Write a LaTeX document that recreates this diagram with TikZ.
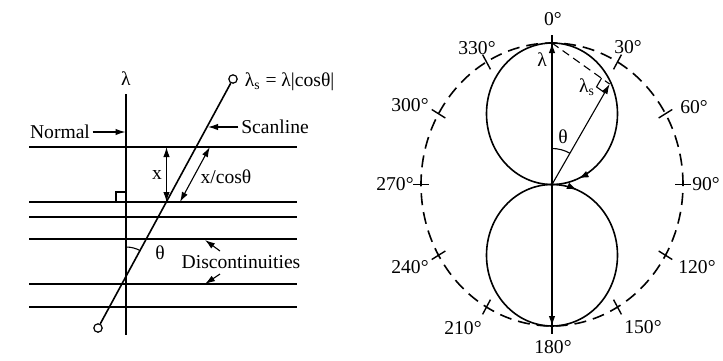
\documentclass[tikz,border=0pt]{standalone}
\usepackage{fontspec}
\setmainfont{Liberation Serif}
\usetikzlibrary{arrows.meta,calc,decorations.markings}
\begin{document}
\begin{tikzpicture}[x=0.5pt,y=-0.5pt,
  line width=0.8pt,
  lbl/.style={font=\fontsize{9.8}{11}\selectfont, inner sep=1pt},
  tip/.style={-{Latex[length=5pt,width=3.2pt]}},
  dtip/.style={{Latex[length=5pt,width=3.2pt]}-{Latex[length=5pt,width=3.2pt]}},
  endc/.style={circle,draw,line width=0.6pt,inner sep=0pt,minimum size=4.2pt,fill=white},
  thinl/.style={line width=0.55pt},
  tck/.style={line width=0.7pt},
]
\useasboundingbox (0,0) rectangle (723,360);

% ---------------- left figure ----------------
\foreach \y/\n in {147/a,202/b,217/c,239/d,284/e,307/f}{
  \coordinate (h\n1) at (29,\y); \coordinate (h\n2) at (297,\y);
  \draw (h\n1) -- (h\n2);
}
\coordinate (n1) at (126,94); \coordinate (n2) at (126,335);
\draw (n1) -- (n2);
\node[lbl] (lam) at (126,79) {λ};

\node[endc] (s1) at (98,328) {};
\node[endc] (s2) at (233,79) {};
\draw (s1) -- (s2);

% x and x/cos theta
\coordinate (xa) at (166.5,147); \coordinate (xb) at (166.5,202);
\draw[dtip,thinl] (xa) -- (xb);
\node[lbl] (xl) at (157,175) {x};
\coordinate (ca) at (209.8,147); \coordinate (cb) at (180,202);
\draw[dtip,thinl] (ca) -- (cb);
\node[lbl] (cl) at (226,177) {x/cosθ};

% right angle mark
\coordinate (r1) at (116,202); \coordinate (r2) at (116,192); \coordinate (r3) at (126,192);
\draw[thinl] (r1) -- (r2) -- (r3);

% theta arc
\coordinate (q) at (126,277);
\draw[thinl] ([shift={(90:15pt)}]q) arc[start angle=90, end angle=61.5, radius=15pt];
\node[lbl] (thl) at (160,253) {θ};

% labels with arrows
\node[lbl] (nl) at (60,132) {Normal};
\coordinate (nt) at (125.5,132);
\draw[tip,thinl] (nl.east) -- (nt);

\node[lbl] (sl) at (275,127) {Scanline};
\coordinate (st) at (208,127);
\draw[tip,thinl] (sl.west) -- (st);

\node[lbl,anchor=west] (ls) at (242,82) {λ\textsubscript{s} = λ|cosθ|};

\node[lbl] (dl) at (241,262) {Discontinuities};
\coordinate (da1) at (220,251); \coordinate (dt1) at (205,240);
\coordinate (da2) at (220,274); \coordinate (dt2) at (205,284);
\draw[tip,thinl] (da1) -- (dt1);
\draw[tip,thinl] (da2) -- (dt2);

% ---------------- right figure ----------------
\coordinate (O) at (552,184.5);
\begin{scope}[shift={(O)}, x={(65.5pt,0pt)}, y={(0pt,70.75pt)}]
  \coordinate (C) at (0,0);
  \coordinate (T) at (0,1);
  \coordinate (B) at (0,-1);
  \coordinate (P) at (0.44,0.71);
  \draw[dash pattern=on 6pt off 3.5pt] (C) circle [radius=1];
  \foreach \a in {0,30,...,330}{
    \draw[tck] ({0.94*sin(\a)},{0.94*cos(\a)}) -- ({1.06*sin(\a)},{1.06*cos(\a)});
  }
  \draw[postaction={decorate}, decoration={markings,
      mark=at position 0.936 with {\arrow{Latex[length=5pt,width=3.5pt]}}}]
    (C) arc[start angle=-90, end angle=-450, radius=0.5];
  \draw[postaction={decorate}, decoration={markings,
      mark=at position 0.06 with {\arrow{Latex[length=5pt,width=3.5pt]}}}]
    (C) arc[start angle=90, end angle=-270, radius=0.5];
  \draw[tip,thinl] (C) -- (T);
  \draw[tip,thinl] (C) -- (B);
  \draw[tip,thinl] (C) -- (P);
  \draw[thinl,dash pattern=on 4pt off 2.5pt] (T) -- (P);
  \coordinate (ra1) at ($(P)!5pt!(T)$);
  \coordinate (ra2) at ($(P)!5pt!(C)$);
  \draw[thinl] (ra1) -- ($(ra1)+(ra2)-(P)$) -- (ra2);
  \draw[thinl] ([shift={(90:18pt)}]C) arc[start angle=90, end angle=60.2, radius=18pt];
\end{scope}

\node[lbl] (rlam) at (542,60) {λ};
\node[lbl] (rls) at (587,87) {λ\textsubscript{s}};
\node[lbl] (rth) at (563,137) {θ};

\node[lbl] (d0)   at (553,19)  {0°};
\node[lbl] (d30)  at (628,47)  {30°};
\node[lbl] (d60)  at (694,107) {60°};
\node[lbl] (d90)  at (706,184) {90°};
\node[lbl] (d120) at (697,267) {120°};
\node[lbl] (d150) at (643,327) {150°};
\node[lbl] (d180) at (553,347) {180°};
\node[lbl] (d210) at (463,328) {210°};
\node[lbl] (d240) at (410,267) {240°};
\node[lbl] (d270) at (395,184) {270°};
\node[lbl] (d300) at (410,105) {300°};
\node[lbl] (d330) at (477,48)  {330°};
\end{tikzpicture}
\end{document}
